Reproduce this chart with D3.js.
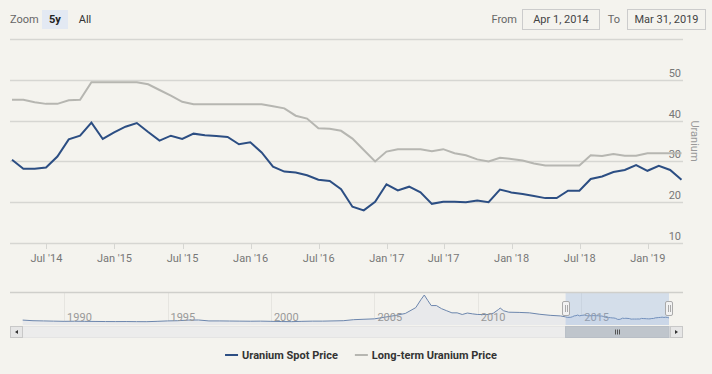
<!DOCTYPE html>
<html>
<head>
<meta charset="utf-8">
<script src="https://cdn.jsdelivr.net/npm/d3@7"></script>
<style>
  body { margin: 0; background: #f4f3ee; }
  text { font-family: Roboto, "DejaVu Sans Condensed", sans-serif; }
</style>
</head>
<body>
<div id="chart"></div>
<script>
// Month of each data point (prices are dated at month end). One month in 2017 has no point.
var months = [
  "2014-03","2014-04","2014-05","2014-06","2014-07","2014-08","2014-09","2014-10","2014-11","2014-12",
  "2015-01","2015-02","2015-03","2015-04","2015-05","2015-06","2015-07","2015-08","2015-09","2015-10","2015-11","2015-12",
  "2016-01","2016-02","2016-03","2016-04","2016-05","2016-06","2016-07","2016-08","2016-09","2016-10","2016-11","2016-12",
  "2017-01","2017-02","2017-04","2017-05","2017-06","2017-07","2017-08","2017-09","2017-10","2017-11","2017-12",
  "2018-01","2018-02","2018-03","2018-04","2018-05","2018-06","2018-07","2018-08","2018-09","2018-10","2018-11","2018-12",
  "2019-01","2019-02","2019-03"
];
var spotPrice = [
  30.4, 28.2, 28.2, 28.5, 31.2, 35.4, 36.3, 39.5, 35.5, 37.1,
  38.5, 39.4, 37.2, 35.1, 36.3, 35.5, 36.8, 36.4, 36.2, 36.0, 34.2, 34.7,
  32.2, 28.7, 27.5, 27.3, 26.6, 25.5, 25.2, 23.2, 18.9, 18.0, 20.1, 24.4,
  22.9, 23.8, 22.4, 19.6, 20.1, 20.1, 20.0, 20.4, 20.0, 23.1, 22.4,
  22.0, 21.5, 21.0, 21.0, 22.8, 22.8, 25.7, 26.3, 27.4, 27.9, 29.1, 27.7,
  28.9, 27.9, 25.5
];
var longTermPrice = [
  45.1, 45.1, 44.5, 44.1, 44.1, 45.0, 45.1, 49.4, 49.4, 49.4,
  49.4, 49.4, 48.9, 47.5, 46.1, 44.6, 44.0, 44.0, 44.0, 44.0, 44.0, 44.0,
  44.0, 43.5, 43.0, 41.2, 40.5, 38.1, 38.0, 37.5, 35.6, 32.8, 30.0, 32.4,
  33.0, 33.0, 33.0, 32.5, 33.0, 32.0, 31.5, 30.5, 30.0, 30.9, 30.6,
  30.2, 29.5, 29.0, 29.0, 29.0, 29.0, 31.5, 31.3, 31.8, 31.4, 31.4, 32.0,
  32.0, 32.0, 32.0
];

// Older spot price history, only seen in the navigator
var histMonths = [
  "1988-01","1988-07","1989-01","1989-07","1990-01","1990-07","1991-01","1991-07","1992-01","1992-07",
  "1993-01","1993-07","1994-01","1994-07","1995-01","1995-07","1996-01","1996-07","1997-01","1997-07",
  "1998-01","1998-07","1999-01","1999-07","2000-01","2000-07","2001-01","2001-07","2002-01","2002-07",
  "2003-01","2003-07","2004-01","2004-07","2005-01","2005-07","2006-01","2006-07","2007-01","2007-04",
  "2007-06","2007-08","2007-10","2008-01","2008-04","2008-07","2008-10","2009-01","2009-04","2009-07",
  "2009-10","2010-01","2010-07","2010-10","2011-01","2011-02","2011-04","2011-07","2012-01","2012-07",
  "2013-01","2013-07","2014-01"
];
var histSpot = [
  15, 12, 11, 10, 9, 9.5, 9, 8.5, 8, 7.8,
  8, 7.5, 7.3, 9, 11, 12, 15, 15.5, 11, 11,
  10.5, 10, 9.5, 10, 9, 8, 7.5, 9, 10, 10,
  11, 12, 17, 19, 21, 29, 37, 47, 75, 113,
  136, 110, 85, 85, 70, 60, 50, 50, 42, 49,
  45, 42, 42, 48, 66, 73, 60, 53, 52, 50,
  43, 38, 35
];

var yTicks = [10, 20, 30, 40, 50, 60];
var xTickMonths = ["2014-07","2015-01","2015-07","2016-01","2016-07","2017-01","2017-07","2018-01","2018-07","2019-01"];
var xTickLabels = ["Jul '14","Jan '15","Jul '15","Jan '16","Jul '16","Jan '17","Jul '17","Jan '18","Jul '18","Jan '19"];

var W = 712, H = 374;
var parseMonth = d3.timeParse("%Y-%m");
var monthEnd = function(m) { return d3.timeDay.offset(d3.timeMonth.offset(parseMonth(m), 1), -1); };
var dates = months.map(monthEnd);
var n = dates.length;

var svg = d3.select("#chart").append("svg")
    .attr("width", W)
    .attr("height", H);
svg.append("rect").attr("width", W).attr("height", H).attr("fill", "#f4f3ee");

// ---------- range selector row ----------
var bar = svg.append("g");
bar.append("text").attr("x", 10).attr("y", 23).attr("font-size", 11).attr("fill", "#666").text("Zoom");
bar.append("rect").attr("x", 42).attr("y", 10).attr("width", 26).attr("height", 19).attr("fill", "#e3e9f3");
bar.append("text").attr("x", 55).attr("y", 23).attr("text-anchor", "middle").attr("font-size", 11)
    .attr("font-weight", "bold").attr("fill", "#222").text("5y");
bar.append("text").attr("x", 85).attr("y", 23).attr("text-anchor", "middle").attr("font-size", 11)
    .attr("fill", "#333").text("All");
bar.append("text").attr("x", 517).attr("y", 23).attr("text-anchor", "end").attr("font-size", 11).attr("fill", "#666").text("From");
bar.append("rect").attr("x", 522.5).attr("y", 9.5).attr("width", 77).attr("height", 20)
    .attr("fill", "#f4f3ee").attr("stroke", "#cccccc");
bar.append("text").attr("x", 561).attr("y", 23).attr("text-anchor", "middle").attr("font-size", 11).attr("fill", "#444")
    .text(d3.timeFormat("%b %-d, %Y")(d3.timeDay.offset(dates[0], 1)));
bar.append("text").attr("x", 620).attr("y", 23).attr("text-anchor", "end").attr("font-size", 11).attr("fill", "#666").text("To");
bar.append("rect").attr("x", 627.5).attr("y", 9.5).attr("width", 78).attr("height", 20)
    .attr("fill", "#f4f3ee").attr("stroke", "#cccccc");
bar.append("text").attr("x", 666.5).attr("y", 23).attr("text-anchor", "middle").attr("font-size", 11).attr("fill", "#444")
    .text(d3.timeFormat("%b %-d, %Y")(dates[n - 1]));

// ---------- main plot ----------
var plotL = 10, plotR = 683, plotT = 39, plotB = 243;

// ordinal axis: points are evenly spaced, dates are placed between them
var ord = d3.scaleLinear().domain(dates).range(d3.range(n));
var x = d3.scaleLinear().domain([0, n - 1]).range([12, 681.5]);
var y = d3.scaleLinear().domain([10, 60]).range([plotB, plotT]);

svg.append("g").selectAll("line")
    .data(yTicks)
  .enter().append("line")
    .attr("x1", plotL).attr("x2", plotR)
    .attr("y1", function(d) { return Math.round(y(d)) + 0.5; })
    .attr("y2", function(d) { return Math.round(y(d)) + 0.5; })
    .attr("stroke", "#d6d6d2")
    .attr("stroke-width", 1.5);

// last label hidden, like the original
svg.append("g").selectAll("text")
    .data(yTicks.slice(0, -1))
  .enter().append("text")
    .attr("x", 681)
    .attr("y", function(d) { return y(d) - 3; })
    .attr("text-anchor", "end")
    .attr("font-size", 11)
    .attr("fill", "#777")
    .text(function(d) { return d; });

svg.append("text")
    .attr("transform", "translate(691,141) rotate(90)")
    .attr("text-anchor", "middle")
    .attr("font-size", 11)
    .attr("fill", "#999")
    .text("Uranium");

var xTickPos = xTickMonths.map(function(m) { return x(ord(parseMonth(m))); });
var xt = svg.append("g").selectAll("g")
    .data(xTickPos)
  .enter().append("g");
xt.append("line")
    .attr("x1", function(d) { return Math.round(d) + 0.5; })
    .attr("x2", function(d) { return Math.round(d) + 0.5; })
    .attr("y1", plotB).attr("y2", plotB + 6)
    .attr("stroke", "#d6d6d2");
xt.append("text")
    .attr("x", function(d) { return d; })
    .attr("y", 262)
    .attr("text-anchor", "middle")
    .attr("font-size", 11)
    .attr("fill", "#777")
    .text(function(d, i) { return xTickLabels[i]; });

var line = d3.line()
    .x(function(d, i) { return x(i); })
    .y(function(d) { return y(d); });

svg.append("path")
    .datum(longTermPrice)
    .attr("d", line)
    .attr("fill", "none")
    .attr("stroke", "#b6b6b1")
    .attr("stroke-width", 2);

svg.append("path")
    .datum(spotPrice)
    .attr("d", line)
    .attr("fill", "none")
    .attr("stroke", "#2c4e83")
    .attr("stroke-width", 2);

// ---------- navigator ----------
var navT = 292, navB = 325;
var navData = histMonths.map(function(m, i) { return {date: parseMonth(m), value: histSpot[i]}; })
  .concat(dates.map(function(d, i) { return {date: d, value: spotPrice[i]}; }));

var navX = d3.scaleTime()
    .domain([navData[0].date, dates[n - 1]])
    .range([22.7, 669]);
var navY = d3.scaleLinear().domain([0, 136]).range([323.2, 295]);

var navTicks = navX.ticks(d3.timeYear.every(5));
svg.append("g").selectAll("line")
    .data(navTicks)
  .enter().append("line")
    .attr("x1", function(d) { return Math.round(navX(d)) + 0.5; })
    .attr("x2", function(d) { return Math.round(navX(d)) + 0.5; })
    .attr("y1", navT).attr("y2", navB)
    .attr("stroke", "#e6e5e0");

svg.append("path")
    .datum(navData)
    .attr("d", d3.area()
      .x(function(d) { return navX(d.date); })
      .y0(navB)
      .y1(function(d) { return navY(d.value); }))
    .attr("fill", "#e8e9eb");

svg.append("path")
    .datum(navData)
    .attr("d", d3.line()
      .x(function(d) { return navX(d.date); })
      .y(function(d) { return navY(d.value); }))
    .attr("fill", "none")
    .attr("stroke", "#6c86ad")
    .attr("stroke-width", 1);

svg.append("g").selectAll("text")
    .data(navTicks)
  .enter().append("text")
    .attr("x", function(d) { return navX(d) + 3; })
    .attr("y", 321)
    .attr("font-size", 11)
    .attr("fill", "#999")
    .text(d3.timeFormat("%Y"));

var selL = navX(dates[0]), selR = navX(dates[n - 1]);
svg.append("rect")
    .attr("x", selL).attr("y", navT)
    .attr("width", selR - selL).attr("height", navB - navT)
    .attr("fill", "rgba(130,170,225,0.28)");

svg.append("line")
    .attr("x1", plotL).attr("x2", plotR)
    .attr("y1", navT + 0.5).attr("y2", navT + 0.5)
    .attr("stroke", "#cfcfcb")
    .attr("stroke-width", 1.5);

// scrollbar
var sb = svg.append("g");
sb.append("rect").attr("x", 10.5).attr("y", 326.5).attr("width", 672).attr("height", 11)
    .attr("fill", "#ececec").attr("stroke", "#e4e4e4");
sb.append("rect").attr("x", selL).attr("y", 326.5).attr("width", selR - selL).attr("height", 11)
    .attr("fill", "#bfc5cc").attr("stroke", "#b8bec6");
[-2, 0, 2].forEach(function(o) {
  var cx = Math.round((selL + selR) / 2) + o + 0.5;
  sb.append("line").attr("x1", cx).attr("x2", cx).attr("y1", 329.5).attr("y2", 334.5).attr("stroke", "#555");
});
[[10.5, -1], [670.5, 1]].forEach(function(b) {
  sb.append("rect").attr("x", b[0]).attr("y", 326.5).attr("width", 12).attr("height", 11)
      .attr("fill", "#e6e6e6").attr("stroke", "#c8c8c8");
  var cx = b[0] + 6, cy = 332;
  sb.append("path")
      .attr("d", "M" + (cx - 1.5 * b[1]) + "," + (cy - 2) + "L" + (cx + 1.5 * b[1]) + "," + cy + "L" + (cx - 1.5 * b[1]) + "," + (cy + 2) + "Z")
      .attr("fill", "#333");
});

// handles
[selL, selR].forEach(function(hx) {
  var g = svg.append("g").attr("transform", "translate(" + Math.round(hx) + ",0)");
  g.append("rect").attr("x", -3.5).attr("y", 301.5).attr("width", 7).attr("height", 14).attr("rx", 1.5)
      .attr("fill", "#f2f2f2").attr("stroke", "#aaa");
  g.append("line").attr("x1", -0.5).attr("x2", -0.5).attr("y1", 305).attr("y2", 312).attr("stroke", "#aaa");
  g.append("line").attr("x1", 1.5).attr("x2", 1.5).attr("y1", 305).attr("y2", 312).attr("stroke", "#aaa");
});

// ---------- legend ----------
var legendItems = [
  {name: "Uranium Spot Price", color: "#2c4e83"},
  {name: "Long-term Uranium Price", color: "#b6b6b1"}
];
var legend = svg.append("g");
var lx = 0;
legendItems.forEach(function(it) {
  var g = legend.append("g").attr("transform", "translate(" + lx + ",0)");
  g.append("line").attr("x1", 0).attr("x2", 13).attr("y1", 355).attr("y2", 355)
      .attr("stroke", it.color).attr("stroke-width", 2);
  var t = g.append("text").attr("x", 17).attr("y", 359).attr("font-size", 11)
      .attr("font-weight", "bold").attr("fill", "#333").text(it.name);
  lx += 17 + t.node().getComputedTextLength() + 17;
});
legend.attr("transform", "translate(" + (361 - (lx - 17) / 2) + ",0)");
</script>
</body>
</html>
